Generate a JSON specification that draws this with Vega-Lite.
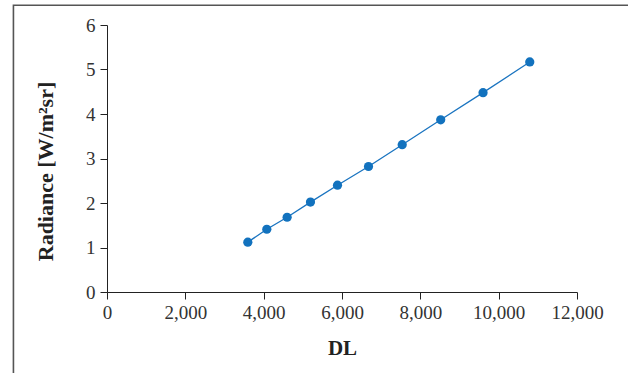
{
  "$schema": "https://vega.github.io/schema/vega-lite/v6.json",
  "autosize": {"type": "none"},
  "padding": {"left": 107, "top": 25, "right": 51, "bottom": 81},
  "width": 470,
  "height": 267,
  "background": "white",
  "config": {
    "view": {"stroke": null},
    "font": "Liberation Serif"
  },
  "datasets": {
    "points": [
      {"DL": 3595, "Radiance": 1.12},
      {"DL": 4080, "Radiance": 1.41},
      {"DL": 4599, "Radiance": 1.68},
      {"DL": 5195, "Radiance": 2.02},
      {"DL": 5885, "Radiance": 2.4},
      {"DL": 6677, "Radiance": 2.82},
      {"DL": 7537, "Radiance": 3.31},
      {"DL": 8520, "Radiance": 3.87},
      {"DL": 9601, "Radiance": 4.48},
      {"DL": 10794, "Radiance": 5.17}
    ],
    "frame": [
      {"x1": -2389, "x2": 15000, "y1": -3, "y2": 6.445}
    ]
  },
  "layer": [
    {
      "data": {"name": "frame"},
      "mark": {"type": "rect", "fill": null, "stroke": "#555555", "strokeWidth": 1.6, "clip": false},
      "encoding": {
        "x": {"field": "x1", "type": "quantitative"},
        "x2": {"field": "x2"},
        "y": {"field": "y1", "type": "quantitative"},
        "y2": {"field": "y2"}
      }
    },
    {
      "data": {"name": "points"},
      "mark": {"type": "line", "color": "#1a74c0", "strokeWidth": 1.3},
      "encoding": {
        "x": {"field": "DL", "type": "quantitative", "scale": {"domain": [0, 12000], "nice": false},
          "axis": {"title": "DL", "values": [0, 2000, 4000, 6000, 8000, 10000, 12000], "format": ",d",
            "labelFlush": false, "labelOverlap": false,
            "labelFont": "Liberation Serif", "labelFontSize": 19, "labelColor": "#333333", "labelPadding": 4,
            "titleFont": "Liberation Serif", "titleFontSize": 21, "titleFontWeight": "bold", "titleColor": "#222222", "titlePadding": 15,
            "domainColor": "#222222", "tickColor": "#222222", "tickSize": 7, "grid": false}},
        "y": {"field": "Radiance", "type": "quantitative", "scale": {"domain": [0, 6], "nice": false},
          "axis": {"title": "Radiance [W/m²sr]", "values": [0, 1, 2, 3, 4, 5, 6],
            "labelFlush": false, "labelOverlap": false,
            "labelFont": "Liberation Serif", "labelFontSize": 19, "labelColor": "#333333", "labelPadding": 5,
            "titleFont": "Liberation Serif", "titleFontSize": 22, "titleFontWeight": "bold", "titleColor": "#222222",
            "titleX": -62, "titleY": 146, "titleBaseline": "middle", "titleAlign": "center", "titleAngle": -90,
            "domainColor": "#222222", "tickColor": "#222222", "tickSize": 7, "grid": false}}
      }
    },
    {
      "data": {"name": "points"},
      "mark": {"type": "point", "filled": true, "color": "#1272be", "size": 85, "opacity": 1},
      "encoding": {
        "x": {"field": "DL", "type": "quantitative"},
        "y": {"field": "Radiance", "type": "quantitative"}
      }
    }
  ]
}
